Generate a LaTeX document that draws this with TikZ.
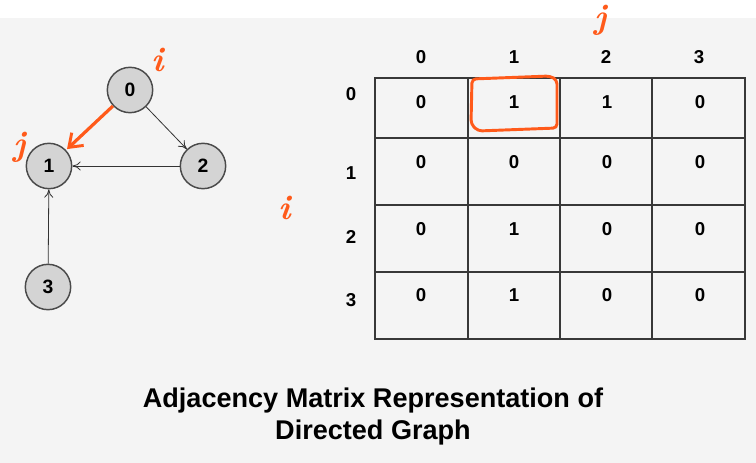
\documentclass[tikz,border=0pt]{standalone}
\usepackage{fontspec}
\setsansfont{Liberation Sans}
\usetikzlibrary{arrows.meta}
\definecolor{bggray}{HTML}{F4F4F4}
\definecolor{nodefill}{HTML}{D4D4D4}
\definecolor{nodeedge}{HTML}{4A4A4A}
\definecolor{gridcol}{HTML}{383838}
\definecolor{penorange}{HTML}{FF5A1A}

\begin{document}
\begin{tikzpicture}[
  x=0.75pt, y=-0.75pt,
  font=\sffamily\bfseries\fontsize{14}{16}\selectfont,
  vertex/.style={circle, draw=nodeedge, line width=1.1pt, fill=nodefill,
                 minimum size=34pt, inner sep=0pt,
                 font=\sffamily\bfseries\fontsize{14.5}{16}\selectfont},
  edge/.style={-{To[length=2.2mm, width=2.4mm]}, line width=0.6pt, draw=black!80},
  penedge/.style={-{Straight Barb[length=3.2mm, width=4.6mm, line width=2.2pt]},
                  line width=2.4pt, draw=penorange, shorten >=1pt},
  pen/.style={text=penorange, font=\rmfamily\bfseries\itshape\fontsize{26}{26}\selectfont},
  gridline/.style={draw=gridcol, line width=1.2pt},
  lbl/.style={anchor=center},
]
\useasboundingbox (0,0) rectangle (756,463);
\fill[bggray] (0,18) rectangle (756,463);

% ─── directed graph (left) ─────────────────────────────────────────────────
\node[vertex] (v0) at (130,90)  {0};
\node[vertex] (v1) at (49,166)  {1};
\node[vertex] (v2) at (203,166) {2};
\node[vertex] (v3) at (48,287)  {3};

\draw[edge] (v0) -- (v2);
\draw[edge] (v2) -- (v1);
\draw[edge] (v3) -- (v1);
\draw[penedge] (v0) -- (v1);

\node[pen] (vi) at (158,60)  {i};
\node[pen] (vj) at (20,147)  {j};

% ─── adjacency matrix (right) ──────────────────────────────────────────────
\draw[gridline] (375,78) rectangle (745,339);
\foreach \gx in {468,560,652}
  \draw[gridline] (\gx,78) -- (\gx,339);
\foreach \gy in {138,205,272}
  \draw[gridline] (375,\gy) -- (745,\gy);

\foreach \k/\cx in {0/421,1/514,2/606,3/699}
  \node[lbl] (col\k) at (\cx,57) {\k};
\foreach \k/\ry in {0/94,1/173,2/237,3/300}
  \node[lbl] (row\k) at (351,\ry) {\k};

\foreach \r/\cy/\vals in {0/102/{0,1,1,0}, 1/162/{0,0,0,0},
                          2/229/{0,1,0,0}, 3/295/{0,1,0,0}}{
  \foreach \v [count=\c from 0] in \vals{
    \pgfmathsetmacro{\cx}{421+93*\c}
    \node[lbl] (m\r\c) at (\cx,\cy) {\v};
  }
}

% ─── hand-drawn marks on the matrix ────────────────────────────────────────
\draw[penorange, line width=2.2pt, rounded corners=3pt]
  (472,79) -- (550,76) -- (557,80) -- (557,128) -- (478,131) -- (471,124) -- cycle;
\node[pen] (mj) at (601,20)  {j};
\node[pen] (mi) at (285,208) {i};

% ─── caption ───────────────────────────────────────────────────────────────
\node[align=center, font=\sffamily\bfseries\fontsize{20.3}{24}\selectfont] (caption)
  at (373,416) {Adjacency Matrix Representation of\\Directed Graph};

\end{tikzpicture}
\end{document}
